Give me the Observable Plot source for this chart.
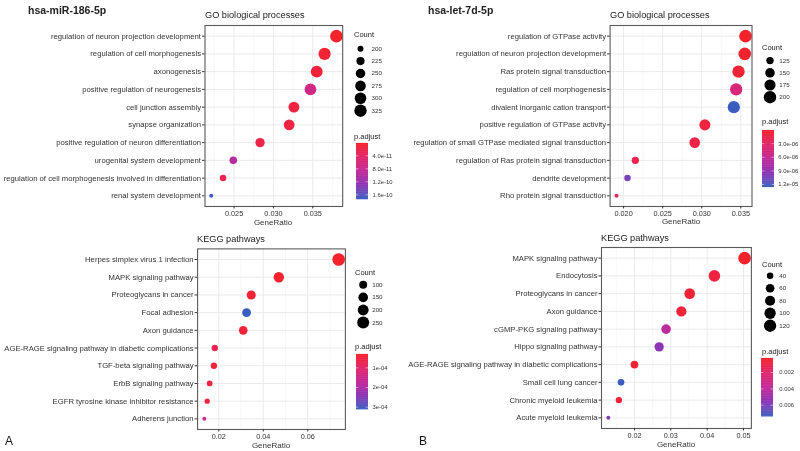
<!DOCTYPE html>
<html>
<head>
<meta charset="utf-8">
<script src="https://cdn.jsdelivr.net/npm/d3@7"></script>
<script src="https://cdn.jsdelivr.net/npm/@observablehq/plot@0.6"></script>
<style>
  html, body { margin: 0; padding: 0; background: #fff; }
  #root { position: relative; width: 800px; height: 451px; overflow: hidden; background: #fff; font-family: 'Liberation Sans', Arial, sans-serif; }
  .t { position: absolute; white-space: nowrap; line-height: 1; will-change: transform; }
  svg { position: absolute; overflow: visible; will-change: transform; }
</style>
</head>
<body>
<div id="root"></div>
<script>
// ---------------- DATA ----------------
// A: hsa-miR-186-5p, GO biological processes
const goA_terms = ["regulation of neuron projection development","regulation of cell morphogenesis","axonogenesis","positive regulation of neurogenesis","cell junction assembly","synapse organization","positive regulation of neuron differentiation","urogenital system development","regulation of cell morphogenesis involved in differentiation","renal system development"];
const goA_ratio = [0.0380,0.0365,0.0355,0.0347,0.0326,0.0320,0.0283,0.0249,0.0236,0.0221];
const goA_count = [331,318,309,302,284,278,246,217,205,193];
const goA_padj  = [2e-12,6e-12,1.2e-11,7e-11,1.6e-11,1.8e-11,2.2e-11,9.5e-11,2.6e-11,1.72e-10];
const goA_xticks = [0.025,0.030,0.035];
const goA_xminor = [0.0225,0.0275,0.0325,0.0375];
const goA_sizeBreaks = [200,225,250,275,300,325];
const goA_colTicks = [4e-11,8e-11,1.2e-10,1.6e-10];
const goA_colLabels = ["4.0e-11","8.0e-11","1.2e-10","1.6e-10"];

// A: hsa-miR-186-5p, KEGG pathways
const keggA_terms = ["Herpes simplex virus 1 infection","MAPK signaling pathway","Proteoglycans in cancer","Focal adhesion","Axon guidance","AGE-RAGE signaling pathway in diabetic complications","TGF-beta signaling pathway","ErbB signaling pathway","EGFR tyrosine kinase inhibitor resistance","Adherens junction"];
const keggA_ratio = [0.0739,0.0470,0.0346,0.0325,0.0310,0.0182,0.0178,0.0159,0.0148,0.0135];
const keggA_count = [281,179,131,124,118,69,68,60,56,51];
const keggA_padj  = [3.25e-5,3.4e-5,4.2e-5,3.08e-4,4.5e-5,7.5e-5,4.8e-5,6.2e-5,5e-5,1.55e-4];
const keggA_xticks = [0.02,0.04,0.06];
const keggA_xminor = [0.03,0.05,0.07];
const keggA_sizeBreaks = [100,150,200,250];
const keggA_colTicks = [1e-4,2e-4,3e-4];
const keggA_colLabels = ["1e-04","2e-04","3e-04"];

// B: hsa-let-7d-5p, GO biological processes
const goB_terms = ["regulation of GTPase activity","regulation of neuron projection development","Ras protein signal transduction","regulation of cell morphogenesis","divalent inorganic cation transport","positive regulation of GTPase activity","regulation of small GTPase mediated signal transduction","regulation of Ras protein signal transduction","dendrite development","Rho protein signal transduction"];
const goB_ratio = [0.0356,0.0355,0.0347,0.0344,0.0341,0.0304,0.0291,0.0215,0.0205,0.0191];
const goB_count = [205,204,199,198,196,175,167,124,118,110];
const goB_padj  = [1e-7,2e-7,6e-7,4.2e-6,1.245e-5,1.0e-6,1.3e-6,1.6e-6,1.02e-5,2.2e-6];
const goB_xticks = [0.020,0.025,0.030,0.035];
const goB_xminor = [0.0225,0.0275,0.0325];
const goB_sizeBreaks = [125,150,175,200];
const goB_colTicks = [3e-6,6e-6,9e-6,1.2e-5];
const goB_colLabels = ["3.0e-06","6.0e-06","9.0e-06","1.2e-05"];

// B: hsa-let-7d-5p, KEGG pathways
const keggB_terms = ["MAPK signaling pathway","Endocytosis","Proteoglycans in cancer","Axon guidance","cGMP-PKG signaling pathway","Hippo signaling pathway","AGE-RAGE signaling pathway in diabetic complications","Small cell lung cancer","Chronic myeloid leukemia","Acute myeloid leukemia"];
const keggB_ratio = [0.0503,0.0420,0.0352,0.0329,0.0287,0.0268,0.0200,0.0163,0.0157,0.0128];
const keggB_count = [126,105,88,82,72,67,50,41,39,32];
const keggB_padj  = [2.9e-4,8.5e-4,6e-4,7e-4,4.1e-3,5.6e-3,5e-4,7.3e-3,6e-4,5.8e-3];
const keggB_xticks = [0.02,0.03,0.04,0.05];
const keggB_xminor = [0.015,0.025,0.035,0.045];
const keggB_sizeBreaks = [40,60,80,100,120];
const keggB_colTicks = [0.002,0.004,0.006];
const keggB_colLabels = ["0.002","0.004","0.006"];

const headings = ["hsa-miR-186-5p","hsa-let-7d-5p"];
const panelTitles = ["GO biological processes","KEGG pathways"];
const panelLetters = ["A","B"];

// ---------------- STYLE ----------------
const FONT = "'Liberation Sans', Arial, sans-serif";
const RAMP = ["#f4232b", "#e1266a", "#c42a98", "#8d33b4", "#3b5cc0"]; // low p.adjust -> high
const interp = d3.piecewise(d3.interpolateLab, RAMP);
const TXT = "#333333";
const root = document.getElementById("root");

function text(str, x, y, size, opts = {}) {
  const d = document.createElement("div");
  d.className = "t";
  d.textContent = str;
  d.style.fontSize = size + "px";
  d.style.color = opts.color || TXT;
  d.style.fontFamily = opts.font || FONT;
  if (opts.weight) d.style.fontWeight = opts.weight;
  d.style.top = (y - size * 0.52) + "px";
  d.style.left = x + "px";
  if (opts.anchor === "middle") d.style.transform = "translateX(-50%)";
  root.appendChild(d);
}
function place(svg, left, top) {
  svg.style.left = left + "px";
  svg.style.top = top + "px";
  svg.style.position = "absolute";
  svg.style.maxWidth = "none";
  root.appendChild(svg);
}

function panel(cfg) {
  const data = cfg.terms.map((t, i) => ({term: t, ratio: cfg.ratio[i], count: cfg.count[i], padj: cfg.padj[i]}));
  const [x0, x1] = d3.extent(cfg.ratio);
  const pad = (x1 - x0) * 0.05;
  const [c0, c1] = d3.extent(cfg.count);
  const cdom = d3.extent(cfg.padj);
  const [L, R, T, B] = cfg.frame;
  const [ox, oy] = cfg.origin;
  const rScale = {type: "sqrt", domain: [0, c1 - c0], range: [2, 6.3]};
  const colorScale = {type: "linear", domain: cdom, interpolate: interp};

  const svg = Plot.plot({
    width: R - ox + 6, height: B - oy + 14,
    marginLeft: L - ox, marginRight: 6, marginTop: T - oy, marginBottom: 14,
    style: {fontFamily: FONT, fontSize: "7.7px", color: TXT, background: "transparent", overflow: "visible"},
    x: {domain: [x0 - pad, x1 + pad]},
    y: {type: "point", domain: cfg.terms, padding: 0.6, round: false},
    r: rScale,
    color: colorScale,
    marks: [
      Plot.ruleX(cfg.xminor, {stroke: "#f3f3f3", strokeWidth: 0.7}),
      Plot.ruleX(cfg.xticks, {stroke: "#ebebeb", strokeWidth: 1}),
      Plot.ruleY(cfg.terms, {y: d => d, stroke: "#ebebeb", strokeWidth: 1}),
      Plot.dot(data, {x: "ratio", y: "term", r: d => d.count - c0, fill: "padj"}),
      Plot.frame({stroke: "#5a5a5a", strokeWidth: 1.1}),
      Plot.axisX({ticks: cfg.xticks, tickFormat: d3.format(cfg.fmt), tickSize: 2.5, tickPadding: 1.5, label: null, fontSize: 7.3}),
      Plot.axisY({tickSize: 2.5, tickPadding: 1.5, label: null})
    ]
  });
  place(svg, ox, oy);

  // titles
  text(cfg.title, L, cfg.titleY, 9.2, {color: "#1a1a1a"});
  text("GeneRatio", (L + R) / 2, cfg.xlabY, 8, {anchor: "middle", color: "#333"});

  // size legend
  const lg = cfg.legend;
  text("Count", lg.x, lg.countY, 7.5, {color: "#222"});
  const n = cfg.sizeBreaks.length;
  const sl = Plot.plot({
    width: 40, height: n * lg.step, margin: 0,
    style: {fontFamily: FONT, fontSize: "6.2px", color: TXT, background: "transparent", overflow: "visible"},
    y: {type: "point", domain: cfg.sizeBreaks, padding: 0.5, round: false, axis: null},
    r: rScale,
    marks: [
      Plot.dot(cfg.sizeBreaks, {y: d => d, r: d => d - c0, fill: "black", frameAnchor: "left", dx: lg.dotX - lg.x}),
      Plot.text(cfg.sizeBreaks, {y: d => d, text: d => String(d), frameAnchor: "left", dx: lg.labX - lg.x, textAnchor: "start", fill: TXT})
    ]
  });
  place(sl, lg.x, lg.dotY0 - lg.step / 2);

  // colour bar (gradient drawn through the panel's colour scale)
  text("p.adjust", lg.x, lg.padjY, 7.5, {color: "#222"});
  const [by0, by1] = lg.bar;
  const bw = 12;
  const steps = 80;
  const samples = d3.range(steps + 1).map(i => cdom[0] + (cdom[1] - cdom[0]) * i / steps);
  const cb = Plot.plot({
    width: 45, height: by1 - by0, margin: 0,
    style: {fontFamily: FONT, fontSize: "5.9px", color: TXT, background: "transparent", overflow: "visible"},
    x: {domain: [0, 45], range: [0, 45], axis: null},
    y: {domain: cdom, reverse: true, axis: null},
    color: colorScale,
    marks: [
      Plot.ruleY(samples, {y: d => d, x1: 0, x2: bw, stroke: d => d, strokeWidth: 1.2}),
      Plot.ruleY(cfg.colTicks, {y: d => d, x1: 0, x2: 2.4, stroke: "white", strokeWidth: 0.6, strokeOpacity: 0.8}),
      Plot.ruleY(cfg.colTicks, {y: d => d, x1: bw - 2.4, x2: bw, stroke: "white", strokeWidth: 0.6, strokeOpacity: 0.8}),
      Plot.text(cfg.colTicks, {y: d => d, x: lg.colLabX - lg.barX, text: (d, i) => cfg.colLabels[i], textAnchor: "start", fill: TXT})
    ]
  });
  place(cb, lg.barX, by0);
}

panel({
  terms: goA_terms, ratio: goA_ratio, count: goA_count, padj: goA_padj,
  xticks: goA_xticks, xminor: goA_xminor, fmt: ".3f",
  sizeBreaks: goA_sizeBreaks, colTicks: goA_colTicks, colLabels: goA_colLabels,
  origin: [0, 0], frame: [204.5, 342.2, 25, 206],
  title: panelTitles[0], titleY: 16, xlabY: 223,
  legend: {x: 354, countY: 35, dotX: 360, labX: 371, dotY0: 48.3, step: 12.4, padjY: 136.7, barX: 355.5, bar: [143.3, 198.5], colLabX: 371.5}
});
panel({
  terms: keggA_terms, ratio: keggA_ratio, count: keggA_count, padj: keggA_padj,
  xticks: keggA_xticks, xminor: keggA_xminor, fmt: ".2f",
  sizeBreaks: keggA_sizeBreaks, colTicks: keggA_colTicks, colLabels: keggA_colLabels,
  origin: [0, 230], frame: [197.1, 344.9, 248.4, 429],
  title: panelTitles[1], titleY: 240, xlabY: 445.7,
  legend: {x: 355, countY: 272.7, dotX: 362.7, labX: 371.7, dotY0: 284, step: 12.6, padjY: 347.3, barX: 356, bar: [354, 408.3], colLabX: 372}
});
panel({
  terms: goB_terms, ratio: goB_ratio, count: goB_count, padj: goB_padj,
  xticks: goB_xticks, xminor: goB_xminor, fmt: ".3f",
  sizeBreaks: goB_sizeBreaks, colTicks: goB_colTicks, colLabels: goB_colLabels,
  origin: [400, 0], frame: [609.6, 751.5, 25, 206],
  title: panelTitles[0], titleY: 16, xlabY: 222.5,
  legend: {x: 761.7, countY: 47.5, dotX: 769.2, labX: 778.5, dotY0: 60, step: 12.2, padjY: 121.7, barX: 761.7, bar: [130, 186], colLabX: 777.5}
});
panel({
  terms: keggB_terms, ratio: keggB_ratio, count: keggB_count, padj: keggB_padj,
  xticks: keggB_xticks, xminor: keggB_xminor, fmt: ".2f",
  sizeBreaks: keggB_sizeBreaks, colTicks: keggB_colTicks, colLabels: keggB_colLabels,
  origin: [400, 230], frame: [601, 750.9, 247, 428],
  title: panelTitles[1], titleY: 239, xlabY: 445,
  legend: {x: 761.7, countY: 265, dotX: 769.3, labX: 778.5, dotY0: 275.7, step: 12.5, padjY: 351.7, barX: 760.7, bar: [358.3, 415.7], colLabX: 778.5}
});

// figure headings and panel letters
text(headings[0], 28, 10.5, 10.5, {weight: "bold", color: "#222"});
text(headings[1], 428, 10.5, 10.5, {weight: "bold", color: "#222"});
text(panelLetters[0], 5, 441, 12, {color: "#111"});
text(panelLetters[1], 419, 441, 12, {color: "#111"});
</script>
</body>
</html>
